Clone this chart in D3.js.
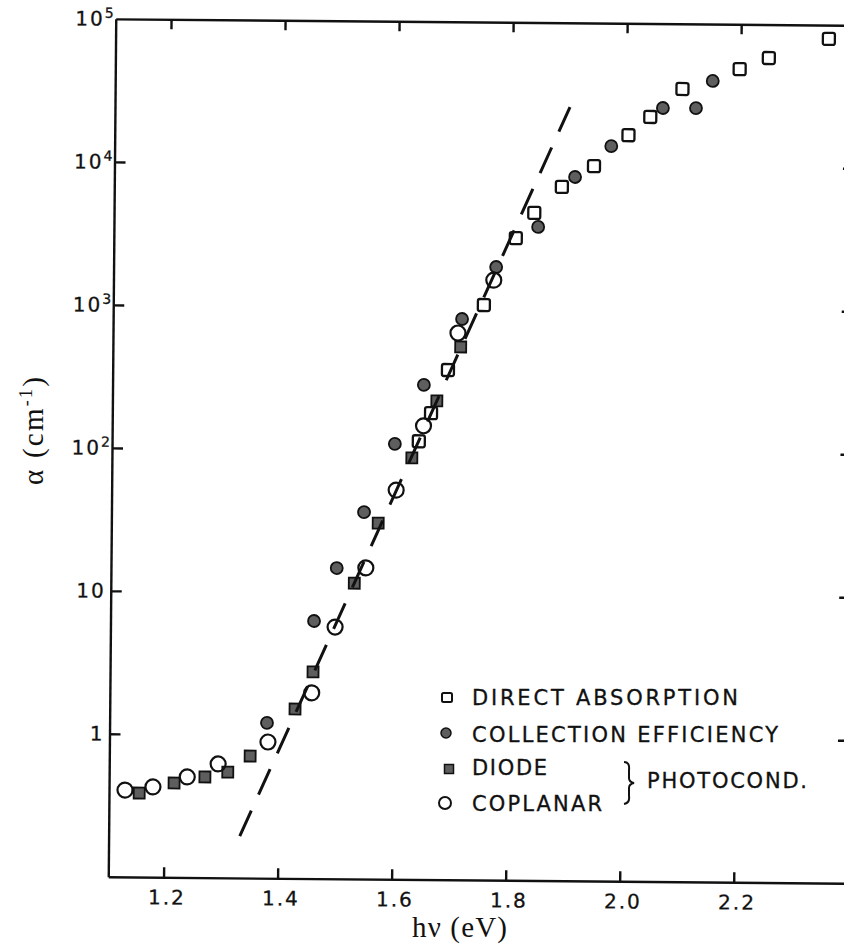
<!DOCTYPE html>
<html>
<head>
<meta charset="utf-8">
<script src="https://cdn.jsdelivr.net/npm/d3@7"></script>
<style>
body { margin: 0; background: #fff; }
svg { display: block; }
.axis path, .axis line { stroke: #111; stroke-width: 2.4; }
.axis text { font-family: "DejaVu Sans", sans-serif; font-size: 20px; fill: #111; letter-spacing: 2px; stroke: #111; stroke-width: 0.3; }
.legend text { font-family: "DejaVu Sans", sans-serif; font-size: 21px; fill: #111; stroke: #111; stroke-width: 0.3; }
.title { font-family: "Liberation Serif", "Times New Roman", serif; font-size: 29px; fill: #111; }
</style>
</head>
<body>
<svg id="chart" width="844" height="951"></svg>
<script>
// photon energy (eV) and absorption coefficient (cm^-1)
var directX = [1.641, 1.662, 1.691, 1.753, 1.808, 1.840, 1.888, 1.944, 2.004, 2.042, 2.098, 2.198, 2.249, 2.354];
var directY = [116, 183, 367, 1050, 3100, 4660, 7110, 9990, 16500, 22200, 35000, 48600, 58300, 80000];

var collectX = [1.379, 1.460, 1.499, 1.546, 1.599, 1.649, 1.715, 1.774, 1.847, 1.911, 1.974, 2.064, 2.122, 2.151];
var collectY = [1.22, 6.33, 14.9, 36.8, 111, 288, 836, 1940, 3720, 8360, 13800, 25700, 25800, 40000];

var diodeX = [1.156, 1.217, 1.271, 1.311, 1.350, 1.428, 1.459, 1.530, 1.571, 1.629, 1.672, 1.713];
var diodeY = [0.387, 0.457, 0.506, 0.549, 0.713, 1.53, 2.79, 11.7, 30.9, 88.7, 223, 533];

var coplanarX = [1.131, 1.180, 1.240, 1.294, 1.381, 1.457, 1.497, 1.550, 1.602, 1.649, 1.708, 1.770];
var coplanarY = [0.405, 0.428, 0.505, 0.625, 0.896, 1.99, 5.76, 15.0, 52.7, 149, 667, 1570];

// straight dashed fit
var fitX = [1.333, 1.901];
var fitY = [0.196, 25770];

var xTicks = [1.2, 1.4, 1.6, 1.8, 2.0, 2.2];
var yTicks = [1, 10, 100, 1000, 10000, 100000];
var yTickBase = ["1", "10", "10", "10", "10", "10"];
var yTickSup = ["", "", "2", "3", "4", "5"];

var legendLabels = ["DIRECT ABSORPTION", "COLLECTION EFFICIENCY", "DIODE", "COPLANAR"];
var legendWidths = [266, 306, 75, 130];

var svg = d3.select("#chart");

var x = d3.scaleLinear().domain([1.103, 2.4]).range([112, 851.5]);
var y = d3.scaleLog().domain([0.1, 1e5]).range([880, 22]);

// the scanned figure is slightly turned
var g = svg.append("g").attr("transform", "rotate(0.5,475,450)");

// frame
g.append("g").attr("class", "axis")
    .attr("transform", "translate(0,880)")
    .call(d3.axisBottom(x).tickValues(xTicks).tickSize(-10).tickSizeOuter(0).tickPadding(13)
        .tickFormat(d3.format(".1f")))
    .selectAll("text").attr("dx", 3);

g.append("g").attr("class", "axis")
    .attr("transform", "translate(0,22)")
    .call(d3.axisTop(x).tickValues(xTicks).tickSize(-10).tickSizeOuter(0).tickFormat(""));

var yAxis = g.append("g").attr("class", "axis")
    .attr("transform", "translate(112,0)")
    .call(d3.axisLeft(y).tickValues(yTicks).tickSize(-11).tickSizeOuter(0).tickPadding(0)
        .tickFormat(function() { return ""; }));

yAxis.selectAll(".tick text").each(function(d, i) {
    var t = d3.select(this).style("letter-spacing", "2px");
    t.append("tspan").text(yTickBase[i]);
    if (yTickSup[i]) {
        t.append("tspan").attr("dy", -8).style("font-size", "14px").text(yTickSup[i]);
    } else {
        t.attr("dx", -5);
    }
});
yAxis.selectAll(".tick").filter(function(d) { return d === 1e5; }).select("line").remove();

g.append("g").attr("class", "axis")
    .attr("transform", "translate(851.5,0)")
    .call(d3.axisRight(y).tickValues(yTicks).tickSize(-11).tickSizeOuter(0).tickFormat(""));

// markers
function pts(xs, ys) {
    return xs.map(function(v, i) { return [v, ys[i]]; });
}

var marks = g.append("g");

marks.selectAll(".direct").data(pts(directX, directY)).enter().append("rect")
    .attr("x", function(d) { return x(d[0]) - 6; })
    .attr("y", function(d) { return y(d[1]) - 6; })
    .attr("width", 12).attr("height", 12).attr("rx", 2)
    .attr("fill", "#fff").attr("stroke", "#111").attr("stroke-width", 2.3);

marks.selectAll(".collect").data(pts(collectX, collectY)).enter().append("circle")
    .attr("cx", function(d) { return x(d[0]); })
    .attr("cy", function(d) { return y(d[1]); })
    .attr("r", 6)
    .attr("fill", "#5e5e5e").attr("stroke", "#111").attr("stroke-width", 1.8);

marks.selectAll(".diode").data(pts(diodeX, diodeY)).enter().append("rect")
    .attr("x", function(d) { return x(d[0]) - 5.5; })
    .attr("y", function(d) { return y(d[1]) - 5.5; })
    .attr("width", 11).attr("height", 11)
    .attr("fill", "#5e5e5e").attr("stroke", "#111").attr("stroke-width", 1.8);

marks.selectAll(".coplanar").data(pts(coplanarX, coplanarY)).enter().append("circle")
    .attr("cx", function(d) { return x(d[0]); })
    .attr("cy", function(d) { return y(d[1]); })
    .attr("r", 7.5)
    .attr("fill", "none").attr("stroke", "#111").attr("stroke-width", 2.2);

// dashed line
var line = d3.line()
    .x(function(d) { return x(d[0]); })
    .y(function(d) { return y(d[1]); });

g.append("path")
    .datum(pts(fitX, fitY))
    .attr("d", line)
    .attr("fill", "none")
    .attr("stroke", "#111")
    .attr("stroke-width", 3)
    .attr("stroke-dasharray", "28,17.5");

// axis titles
svg.append("text").attr("class", "title")
    .attr("x", 412).attr("y", 937)
    .attr("textLength", 95).attr("lengthAdjust", "spacing")
    .text("h\u03bd (eV)");

var yt = svg.append("text").attr("class", "title")
    .attr("transform", "translate(43,485) rotate(-90)")
    .attr("textLength", 108).attr("lengthAdjust", "spacing");
yt.append("tspan").text("\u03b1 (cm");
yt.append("tspan").attr("dy", -11).style("font-size", "18px").text("-1");
yt.append("tspan").attr("dy", 11).text(")");

// legend
var legend = svg.append("g").attr("class", "legend");
var rowY = [705, 742, 775, 811];

legend.selectAll("text.lab").data(legendLabels).enter().append("text")
    .attr("class", "lab")
    .attr("x", 472)
    .attr("y", function(d, i) { return rowY[i]; })
    .attr("textLength", function(d, i) { return legendWidths[i]; })
    .attr("lengthAdjust", "spacing")
    .text(function(d) { return d; });

legend.append("rect").attr("x", 442).attr("y", 693).attr("width", 10).attr("height", 9).attr("rx", 1.5)
    .attr("fill", "#fff").attr("stroke", "#111").attr("stroke-width", 2);
legend.append("circle").attr("cx", 446).attr("cy", 733).attr("r", 5)
    .attr("fill", "#5e5e5e").attr("stroke", "#111").attr("stroke-width", 1.5);
legend.append("rect").attr("x", 444.5).attr("y", 764.5).attr("width", 9).attr("height", 9)
    .attr("fill", "#5e5e5e").attr("stroke", "#111").attr("stroke-width", 1.5);
legend.append("circle").attr("cx", 445).attr("cy", 803).attr("r", 6)
    .attr("fill", "none").attr("stroke", "#111").attr("stroke-width", 2);

legend.append("path")
    .attr("d", "M624,762 Q630,762 629,770 L629,778 Q629,782 634,783 Q629,784 629,788 L629,796 Q630,803 624,804")
    .attr("fill", "none").attr("stroke", "#111").attr("stroke-width", 2);

legend.append("text")
    .attr("x", 647).attr("y", 788)
    .attr("textLength", 160).attr("lengthAdjust", "spacing")
    .text("PHOTOCOND.");
</script>
</body>
</html>
